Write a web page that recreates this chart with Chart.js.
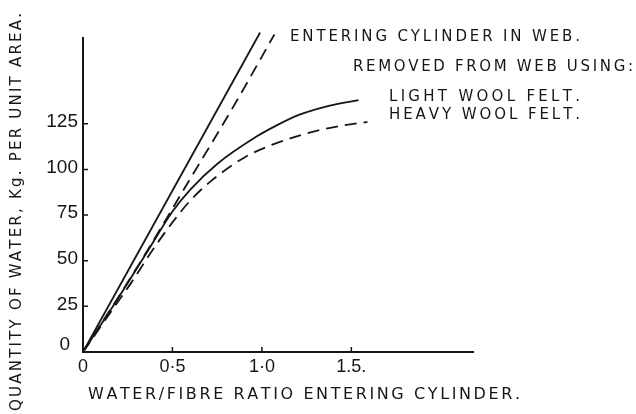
<!DOCTYPE html>
<html>
<head>
<meta charset="utf-8">
<script src="https://cdn.jsdelivr.net/npm/chart.js@4.4.1/dist/chart.umd.min.js"></script>
<style>
  body { margin: 0; background: #fff; }
  canvas { display: block; }
</style>
</head>
<body>
<canvas id="waterChart" width="636" height="414"></canvas>
<script>
// tick values and labels
const xTickValues = [0, 0.5, 1.0, 1.5];
const xTickLabels = ['0', '0·5', '1·0', '1.5.'];
const yTickValues = [0, 25, 50, 75, 100, 125];
const yTickLabels = ['0', '25', '50', '75', '100', '125'];

// entering cylinder in web (solid)
const enteringSolidX = [0, 0.99];
const enteringSolidY = [0, 175];
// entering cylinder in web (dashed)
const enteringDashX = [0, 0.3, 0.6, 0.85, 1.07];
const enteringDashY = [0, 46, 95, 136, 174];
// removed from web using light wool felt
const lightWoolX = [0, 0.2, 0.36, 0.5, 0.6, 0.75, 0.97, 1.08, 1.21, 1.38, 1.54];
const lightWoolY = [0, 30, 55, 77, 89, 103, 118, 124, 130, 135, 138];
// removed from web using heavy wool felt
const heavyWoolX = [0, 0.17, 0.27, 0.39, 0.5, 0.6, 0.72, 0.91, 1.07, 1.19, 1.32, 1.45, 1.59];
const heavyWoolY = [0, 24, 38, 56, 71, 83, 94, 107, 114, 118, 121.5, 124, 126];

const ink = '#161616';
const handFont = '"DejaVu Sans"';

function toPoints(xs, ys) {
    return xs.map((x, i) => ({ x: x, y: ys[i] }));
}

// draws text with its letters spread out to a given width
function spacedText(ctx, text, left, y, width) {
    const chars = Array.from(text);
    const widths = chars.map(c => ctx.measureText(c).width);
    const total = widths.reduce((a, b) => a + b, 0);
    const gap = chars.length > 1 ? (width - total) / (chars.length - 1) : 0;
    let x = left;
    chars.forEach((c, i) => {
        ctx.fillText(c, x, y);
        x += widths[i] + gap;
    });
}

const handText = {
    id: 'handText',
    afterDraw(chart) {
        const ctx = chart.ctx;
        const xs = chart.scales.x;
        const ys = chart.scales.y;
        const area = chart.chartArea;
        ctx.save();
        ctx.fillStyle = ink;
        ctx.strokeStyle = ink;
        ctx.lineWidth = 1.5;
        ctx.textBaseline = 'middle';

        // tick marks inside the axes
        ctx.beginPath();
        yTickValues.forEach(v => {
            if (v === 0) return;
            const py = ys.getPixelForValue(v);
            ctx.moveTo(area.left, py);
            ctx.lineTo(area.left + 5, py);
        });
        xTickValues.forEach(v => {
            if (v === 0) return;
            const px = xs.getPixelForValue(v);
            ctx.moveTo(px, area.bottom);
            ctx.lineTo(px, area.bottom - 5);
        });
        ctx.stroke();

        // y tick labels
        ctx.font = '19px "Liberation Sans"';
        ctx.textAlign = 'right';
        yTickValues.forEach((v, i) => {
            const py = ys.getPixelForValue(v) - 2;
            ctx.fillText(yTickLabels[i], v === 0 ? area.left - 13 : area.left - 5, v === 0 ? py - 5 : py);
        });

        // x tick labels
        ctx.font = '18px "Liberation Sans"';
        ctx.textAlign = 'center';
        xTickValues.forEach((v, i) => {
            const px = xs.getPixelForValue(v);
            ctx.fillText(xTickLabels[i], px, area.bottom + 15);
        });

        // axis titles
        ctx.textAlign = 'left';
        ctx.font = '16px ' + handFont;
        spacedText(ctx, 'WATER/FIBRE RATIO ENTERING CYLINDER.', 88, 395, 432);

        ctx.save();
        ctx.translate(17, 212);
        ctx.rotate(-Math.PI / 2);
        ctx.font = '15px ' + handFont;
        spacedText(ctx, 'QUANTITY OF WATER, Kg. PER UNIT AREA.', -199, 0, 398);
        ctx.restore();

        // curve notes
        ctx.font = '15px ' + handFont;
        spacedText(ctx, 'ENTERING CYLINDER IN WEB.', 290, 37, 290);
        spacedText(ctx, 'REMOVED FROM WEB USING:', 353, 67, 280);
        spacedText(ctx, 'LIGHT WOOL FELT.', 389, 97, 191);
        spacedText(ctx, 'HEAVY WOOL FELT.', 389, 115, 191);

        ctx.restore();
    }
};

const lineStyle = {
    borderColor: ink,
    borderWidth: 1.8,
    pointRadius: 0,
    fill: false,
    clip: false,
    cubicInterpolationMode: 'monotone',
};

const ctx = document.getElementById('waterChart').getContext('2d');
const waterChart = new Chart(ctx, {
    type: 'line',
    data: {
        datasets: [
            {
                label: 'Entering cylinder in web',
                data: toPoints(enteringSolidX, enteringSolidY),
                ...lineStyle,
            },
            {
                label: 'Entering cylinder in web (dashed)',
                data: toPoints(enteringDashX, enteringDashY),
                ...lineStyle,
                borderDash: [12, 7],
            },
            {
                label: 'Light wool felt',
                data: toPoints(lightWoolX, lightWoolY),
                ...lineStyle,
            },
            {
                label: 'Heavy wool felt',
                data: toPoints(heavyWoolX, heavyWoolY),
                ...lineStyle,
                borderDash: [12, 7],
            },
        ],
    },
    options: {
        responsive: false,
        animation: false,
        layout: {
            padding: { left: 83, right: 163, top: 38, bottom: 62 },
        },
        plugins: {
            legend: { display: false },
            tooltip: { enabled: false },
        },
        scales: {
            x: {
                type: 'linear',
                min: 0,
                max: 2.18,
                grid: { display: false, drawTicks: false },
                ticks: { display: false },
                border: { display: true, color: ink, width: 2 },
            },
            y: {
                type: 'linear',
                min: 0,
                max: 172,
                grid: { display: false, drawTicks: false },
                ticks: { display: false },
                border: { display: true, color: ink, width: 2 },
            },
        },
    },
    plugins: [handText],
});
</script>
</body>
</html>
